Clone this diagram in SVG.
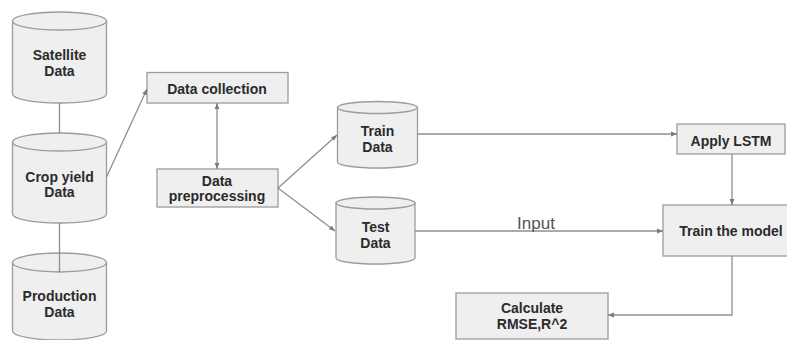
<svg xmlns="http://www.w3.org/2000/svg" width="787" height="340" viewBox="0 0 787 340">
<defs>
<style>
.shape{fill:#efefef;stroke:#9c9c9c;stroke-width:1.3}
.lbl{font-family:"Liberation Sans",Arial,sans-serif;font-size:14px;font-weight:bold;fill:#2b2b2b;text-anchor:middle}
.in{font-family:"Liberation Sans",Arial,sans-serif;font-size:17px;fill:#555;text-anchor:middle}
.con{fill:none;stroke:#8f8f8f;stroke-width:1.3}
</style>
<marker id="ah" viewBox="0 0 10 10" refX="10" refY="5" markerWidth="6" markerHeight="6" orient="auto-start-reverse" markerUnits="userSpaceOnUse">
<path d="M0,1 L10,5 L0,9 Z" fill="#7a7a7a"/>
</marker>
</defs>
<rect width="787" height="340" fill="#fff"/>
<g id="satellite">
<path class="shape" d="M12.5,21 L12.5,94 A47,9 0 0 0 106.5,94 L106.5,21 Z"/>
<ellipse class="shape" cx="59.5" cy="21" rx="47" ry="9"/>
<text class="lbl" x="59.5" y="60">Satellite</text>
<text class="lbl" x="59.5" y="76">Data</text>
</g>
<g id="cropyield">
<path class="shape" d="M12.5,142 L12.5,214 A47,9 0 0 0 106.5,214 L106.5,142 Z"/>
<ellipse class="shape" cx="59.5" cy="142" rx="47" ry="9"/>
<text class="lbl" x="59.5" y="182">Crop yield</text>
<text class="lbl" x="59.5" y="197">Data</text>
</g>
<g id="production">
<path class="shape" d="M12.5,262.5 L12.5,331 A47,9 0 0 0 106.5,331 L106.5,262.5 Z"/>
<ellipse class="shape" cx="59.5" cy="262.5" rx="47" ry="9.5"/>
<text class="lbl" x="59.5" y="301">Production</text>
<text class="lbl" x="59.5" y="317">Data</text>
</g>
<g id="datacollection">
<rect class="shape" x="147" y="72.5" width="141" height="30.5"/>
<text class="lbl" x="217" y="94">Data collection</text>
</g>
<g id="preprocessing">
<rect class="shape" x="157" y="169" width="121" height="38"/>
<text class="lbl" x="217" y="186">Data</text>
<text class="lbl" x="217" y="201">preprocessing</text>
</g>
<g id="traindata">
<path class="shape" d="M337.5,107.5 L337.5,162 A40,6 0 0 0 417.5,162 L417.5,107.5 Z"/>
<ellipse class="shape" cx="377.5" cy="107.5" rx="40" ry="6"/>
<text class="lbl" x="377.5" y="136">Train</text>
<text class="lbl" x="377.5" y="152">Data</text>
</g>
<g id="testdata">
<path class="shape" d="M336,203 L336,258 A39.5,6 0 0 0 415,258 L415,203 Z"/>
<ellipse class="shape" cx="375.5" cy="203" rx="39.5" ry="6"/>
<text class="lbl" x="375.5" y="232">Test</text>
<text class="lbl" x="375.5" y="248">Data</text>
</g>
<g id="applylstm">
<rect class="shape" x="677" y="124" width="108" height="30"/>
<text class="lbl" x="731" y="146">Apply LSTM</text>
</g>
<g id="trainmodel">
<rect class="shape" x="663" y="205" width="130" height="51"/>
<text class="lbl" x="731" y="236">Train the model</text>
</g>
<g id="calculate">
<rect class="shape" x="456" y="293" width="152" height="46"/>
<text class="lbl" x="532" y="313">Calculate</text>
<text class="lbl" x="532" y="329">RMSE,R^2</text>
</g>
<g id="connectors">
<line class="con" x1="59.5" y1="103" x2="59.5" y2="133"/>
<line class="con" x1="59.5" y1="223" x2="59.5" y2="272"/>
<line class="con" x1="106.5" y1="177" x2="147" y2="89" marker-end="url(#ah)"/>
<line class="con" x1="217" y1="103" x2="217" y2="169" marker-start="url(#ah)" marker-end="url(#ah)"/>
<line class="con" x1="278" y1="188" x2="337" y2="135" marker-end="url(#ah)"/>
<line class="con" x1="278" y1="188" x2="335" y2="231" marker-end="url(#ah)"/>
<line class="con" x1="417.5" y1="134" x2="677" y2="134" marker-end="url(#ah)"/>
<line class="con" x1="415" y1="231" x2="663" y2="231" marker-end="url(#ah)"/>
<text class="in" x="536" y="229">Input</text>
<line class="con" x1="732" y1="154" x2="732" y2="205" marker-end="url(#ah)"/>
<polyline class="con" points="732,256 732,315 608,315" marker-end="url(#ah)"/>
</g>
</svg>
